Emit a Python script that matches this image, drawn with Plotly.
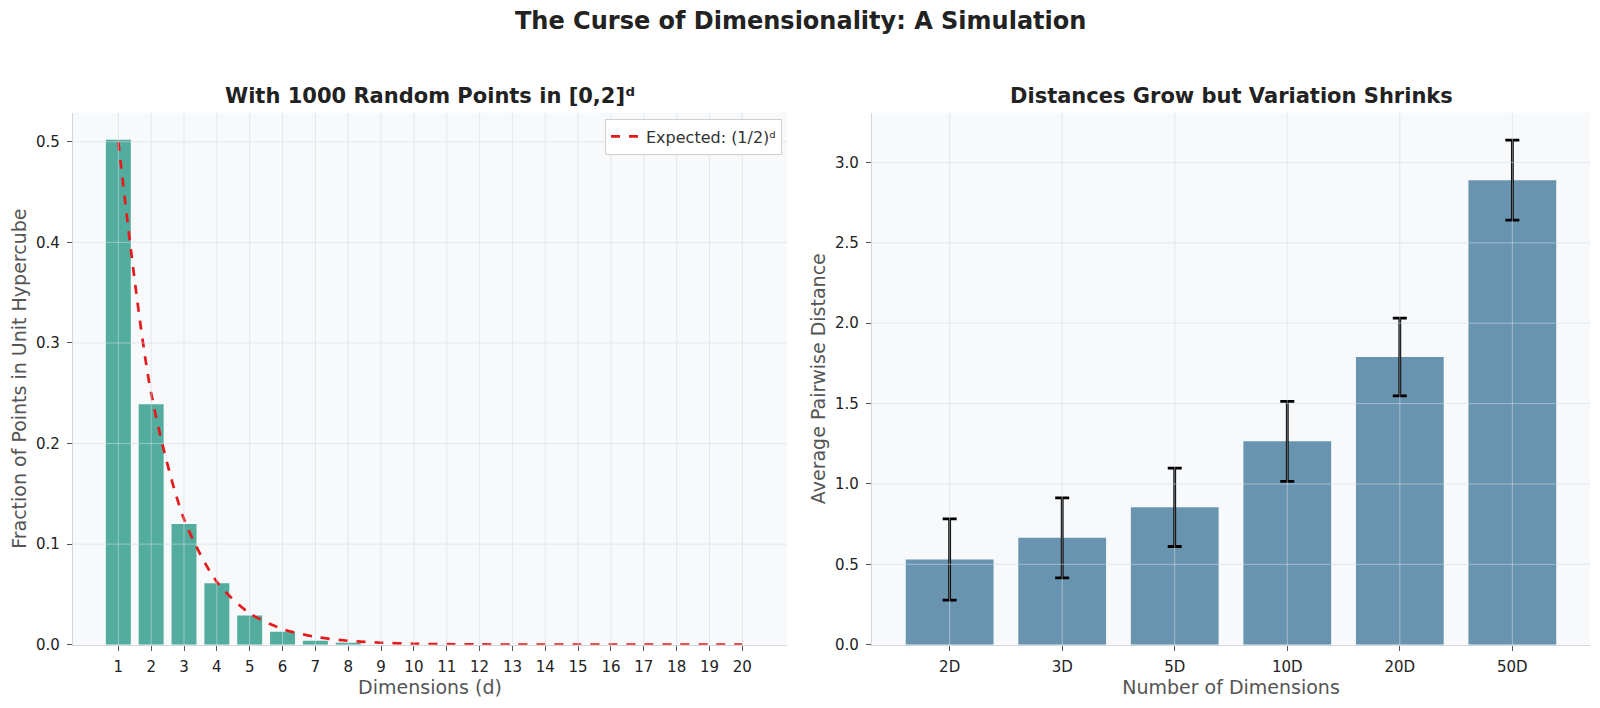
import plotly.graph_objects as go

# left panel: fraction of points inside the unit hypercube
dims = list(range(1, 21))
frac_inside = [0.502, 0.239, 0.120, 0.061, 0.029, 0.013, 0.004, 0.002, 0.0, 0.0,
               0.0, 0.0, 0.0, 0.0, 0.0, 0.0, 0.0, 0.0, 0.0, 0.0]
expected = [0.5, 0.25, 0.125, 0.0625, 0.03125, 0.015625, 0.0078125, 0.00390625,
            0.001953, 0.000977, 0.000488, 0.000244, 0.000122, 0.000061, 0.000031,
            0.000015, 0.000008, 0.000004, 0.000002, 0.000001]
left_yticks = [0.0, 0.1, 0.2, 0.3, 0.4, 0.5]

# right panel: average pairwise distance
dim_labels = ["2D", "3D", "5D", "10D", "20D", "50D"]
avg_dist = [0.53, 0.665, 0.855, 1.265, 1.79, 2.89]
std_dist = [0.253, 0.249, 0.244, 0.249, 0.242, 0.249]
right_yticks = [0.0, 0.5, 1.0, 1.5, 2.0, 2.5, 3.0]

FONT = "DejaVu Sans"
grid_col = "rgba(212,218,226,0.55)"
spine_col = "#d3d7dc"

# the page body has an 8px margin, so the figure is 8px smaller than the window
W, H = 1592, 700
LEFT_DOM = [65 / W, 779 / W]
RIGHT_DOM = [864 / W, 1582 / W]
Y_DOM = [1 - 645 / H, 1 - 106 / H]

fig = go.Figure()

fig.add_trace(go.Bar(
    x=dims, y=frac_inside, width=0.76,
    marker=dict(color="#52ad9f", line=dict(width=0)),
    showlegend=False, xaxis="x", yaxis="y",
))
fig.add_trace(go.Scatter(
    x=dims, y=expected, mode="lines", name="Expected: (1/2)ᵈ",
    line=dict(color="#e41a1c", width=2.7, dash="dash", shape="spline", smoothing=0.8),
    xaxis="x", yaxis="y",
))

fig.add_trace(go.Bar(
    x=list(range(len(dim_labels))), y=avg_dist, width=0.78,
    marker=dict(color="#6894b0", line=dict(width=0)),
    error_y=dict(type="data", array=std_dist, color="black", thickness=2.8, width=7),
    showlegend=False, xaxis="x2", yaxis="y2",
))

# gridlines drawn over the bars, like the original
shapes = []
for d in dims:
    shapes.append(dict(type="line", xref="x", yref="y domain", x0=d, x1=d, y0=0, y1=1,
                       line=dict(color=grid_col, width=1)))
for t in left_yticks[1:]:
    shapes.append(dict(type="line", xref="x domain", yref="y", x0=0, x1=1, y0=t, y1=t,
                       line=dict(color=grid_col, width=1)))
for i in range(len(dim_labels)):
    shapes.append(dict(type="line", xref="x2", yref="y2 domain", x0=i, x1=i, y0=0, y1=1,
                       line=dict(color=grid_col, width=1)))
for t in right_yticks[1:]:
    shapes.append(dict(type="line", xref="x2 domain", yref="y2", x0=0, x1=1, y0=t, y1=t,
                       line=dict(color=grid_col, width=1)))

axis_common = dict(
    showgrid=False, zeroline=False, showline=True, linecolor=spine_col, linewidth=1.3,
    ticks="outside", ticklen=5, tickwidth=1.2, tickcolor="#555",
    tickfont=dict(family=FONT, size=15, color="#222"),
)
title_font = dict(family=FONT, size=19, color="#555")

fig.update_layout(
    width=W, height=H,
    margin=dict(l=0, r=0, t=0, b=0),
    paper_bgcolor="white", plot_bgcolor="#f7f9fb",
    font=dict(family=FONT),
    shapes=shapes,
    xaxis=dict(axis_common, domain=LEFT_DOM, range=[-0.38, 21.36],
               tickmode="array", tickvals=dims, ticktext=[str(d) for d in dims],
               ticklabelstandoff=3,
               title=dict(text="Dimensions (d)", font=title_font, standoff=3),
               anchor="y"),
    yaxis=dict(axis_common, domain=Y_DOM, range=[0, 0.529],
               tickmode="array", tickvals=left_yticks,
               ticktext=[f"{t:.1f}" for t in left_yticks],
               ticklabelstandoff=4,
               title=dict(text="Fraction of Points in Unit Hypercube", font=title_font, standoff=10),
               anchor="x"),
    xaxis2=dict(axis_common, domain=RIGHT_DOM, range=[-0.69, 5.69],
                tickmode="array", tickvals=list(range(len(dim_labels))), ticktext=dim_labels,
                ticklabelstandoff=3,
                title=dict(text="Number of Dimensions", font=title_font, standoff=3),
                anchor="y2"),
    yaxis2=dict(axis_common, domain=Y_DOM, range=[0, 3.31],
                tickmode="array", tickvals=right_yticks,
                ticktext=[f"{t:.1f}" for t in right_yticks],
                ticklabelstandoff=4,
                title=dict(text="Average Pairwise Distance", font=title_font, standoff=4),
                anchor="x2"),
    legend=dict(x=774 / W, y=1 - 112 / H, xanchor="right", yanchor="top",
                bgcolor="white", bordercolor="#d0d0d0", borderwidth=1,
                font=dict(family=FONT, size=16, color="#333")),
)

fig.add_annotation(text="<b>The Curse of Dimensionality: A Simulation</b>", x=792 / W,
                   y=1 - 13 / H, xref="paper", yref="paper", showarrow=False,
                   xanchor="center", yanchor="middle",
                   font=dict(family=FONT, size=24, color="#222"))
fig.add_annotation(text="<b>With 1000 Random Points in [0,2]ᵈ</b>", x=sum(LEFT_DOM) / 2,
                   y=1 - 89 / H, xref="paper", yref="paper", showarrow=False,
                   xanchor="center", yanchor="middle",
                   font=dict(family=FONT, size=21, color="#222"))
fig.add_annotation(text="<b>Distances Grow but Variation Shrinks</b>", x=sum(RIGHT_DOM) / 2,
                   y=1 - 89 / H, xref="paper", yref="paper", showarrow=False,
                   xanchor="center", yanchor="middle",
                   font=dict(family=FONT, size=21, color="#222"))

fig.write_html("out.html")
